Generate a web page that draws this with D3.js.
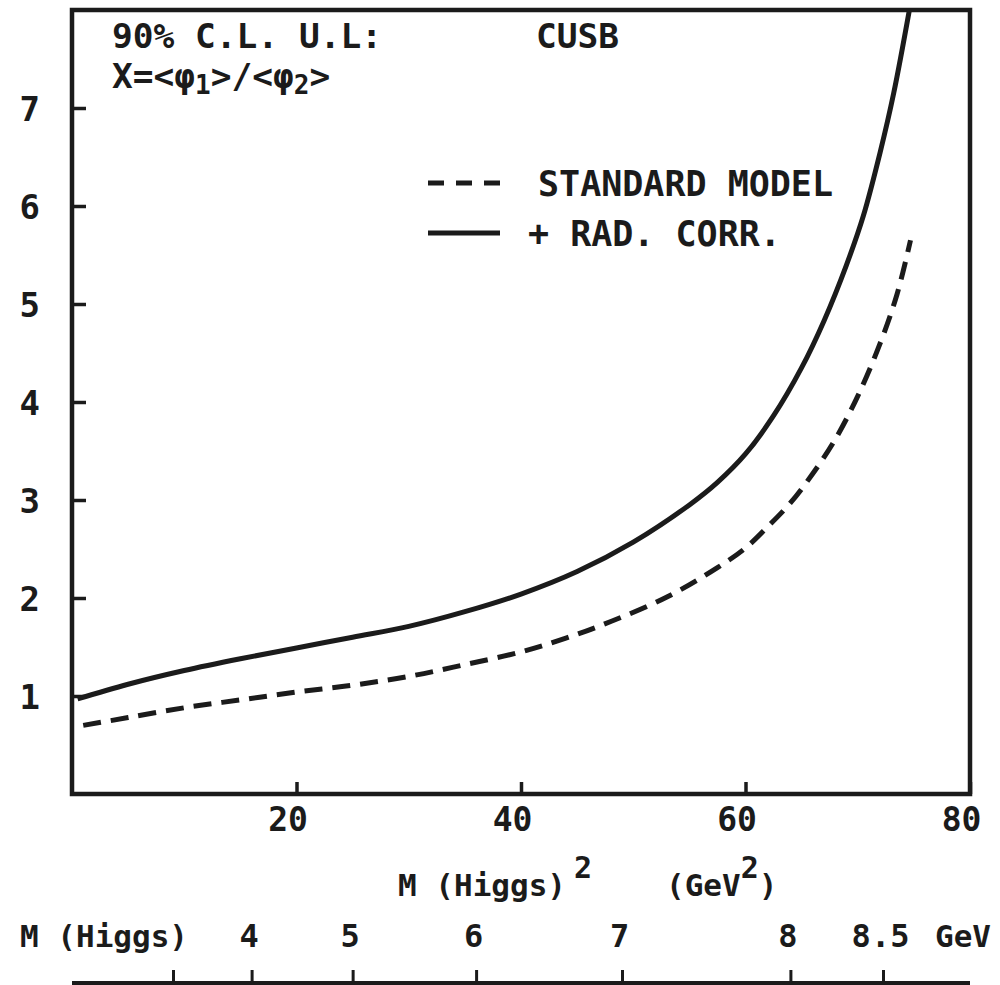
<!DOCTYPE html>
<html>
<head>
<meta charset="utf-8">
<script src="https://cdn.jsdelivr.net/npm/d3@7"></script>
<style>
  body { margin: 0; background: #fff; }
  text { font-family: "DejaVu Sans Mono", monospace; font-weight: bold; fill: #1b1b1b; }
</style>
</head>
<body>
<svg id="svg"></svg>
<script>
// data: upper limit on X vs M(Higgs)^2
const mh2Rad = [0.5, 5, 10, 15, 20, 25, 30, 35, 40, 45, 50, 55, 57.5, 60, 62.5, 65, 67, 69, 70.5, 72, 73.2, 74.6]
const xRad   = [0.97, 1.12, 1.26, 1.38, 1.49, 1.6, 1.71, 1.86, 2.04, 2.27, 2.57, 2.95, 3.18, 3.47, 3.86, 4.35, 4.83, 5.4, 5.9, 6.55, 7.15, 8.0]
const mh2Std = [1, 5, 10, 15, 20, 25, 30, 35, 40, 44, 48, 53, 57.5, 60, 62, 64, 66, 68, 70, 72, 73.5, 74.7]
const xStd   = [0.7, 0.78, 0.88, 0.96, 1.04, 1.11, 1.2, 1.32, 1.45, 1.59, 1.76, 2.01, 2.31, 2.51, 2.73, 2.97, 3.27, 3.62, 4.06, 4.6, 5.1, 5.65]
const yTicks = [1, 2, 3, 4, 5, 6, 7]
const xTicks = [20, 40, 60, 80]
const massTicks = [3, 4, 5, 6, 7, 8, 8.5]

const width = 1000, height = 985
const ink = "#1b1b1b"

const svg = d3.select("#svg")
    .attr("width", width)
    .attr("height", height)

const x = d3.scaleLinear().domain([0, 80]).range([72, 970])
const y = d3.scaleLinear().domain([0, 8]).range([794, 10])
// mass scale: M -> position of M^2
const xm = d3.scalePow().exponent(2).domain([0, Math.sqrt(80)]).range([72, 970])

const line = d3.line()
    .x(d => x(d[0]))
    .y(d => y(d[1]))
    .curve(d3.curveCatmullRom.alpha(0.5))

// frame
svg.append("rect")
    .attr("x", x(0)).attr("y", y(8))
    .attr("width", x(80) - x(0)).attr("height", y(0) - y(8))
    .attr("fill", "none").attr("stroke", ink).attr("stroke-width", 4.5)

// y axis, ticks pointing inward
const gy = svg.append("g")
    .attr("transform", `translate(${x(0)},0)`)
    .call(d3.axisLeft(y).tickValues(yTicks).tickSizeInner(-14).tickSizeOuter(0).tickPadding(32).tickFormat(d3.format("d")))
gy.select(".domain").remove()
gy.selectAll("line").attr("stroke", ink).attr("stroke-width", 3.5)
gy.selectAll("text").attr("font-size", 34).attr("font-family", null).attr("dy", "0.36em")

// x axis (M^2)
const gx = svg.append("g")
    .attr("transform", `translate(0,${y(0)})`)
    .call(d3.axisBottom(x).tickValues(xTicks).tickSizeInner(-12).tickSizeOuter(0).tickPadding(14))
gx.select(".domain").remove()
gx.selectAll("line").attr("stroke", ink).attr("stroke-width", 3.5)
gx.selectAll("text").attr("font-size", 33).attr("font-family", null).attr("dx", -9)

// axis title M(Higgs)^2 (GeV^2)
const t1 = svg.append("text").attr("x", 398).attr("y", 896).attr("font-size", 31)
t1.append("tspan").text("M (Higgs)")
t1.append("tspan").attr("dx", 8).attr("dy", -18).attr("font-size", 30).text("2")
const t2 = svg.append("text").attr("x", 666).attr("y", 896).attr("font-size", 31)
t2.append("tspan").text("(GeV")
t2.append("tspan").attr("dy", -18).attr("font-size", 30).text("2")
t2.append("tspan").attr("dy", 18).text(")")

// secondary mass axis at the bottom
const gm = svg.append("g")
    .attr("transform", "translate(0,983)")
    .call(d3.axisTop(xm).tickValues(massTicks).tickSizeInner(13).tickSizeOuter(0).tickPadding(23)
      .tickFormat(d => d === 3 ? "" : (d === 8.5 ? "8.5" : d3.format("d")(d))))
gm.select(".domain").attr("d", `M${xm(0)},0H${xm(Math.sqrt(80))}`).attr("stroke", ink).attr("stroke-width", 4)
gm.selectAll("line").attr("stroke", ink).attr("stroke-width", 3)
gm.selectAll("text").attr("font-size", 32).attr("font-family", null).attr("dx", -3)
svg.append("text").attr("x", 20).attr("y", 947).attr("font-size", 31).text("M (Higgs)")
svg.append("text").attr("x", 935).attr("y", 947).attr("font-size", 31).text("GeV")

// curves
svg.append("path")
    .datum(d3.zip(mh2Std, xStd))
    .attr("d", line)
    .attr("fill", "none").attr("stroke", ink).attr("stroke-width", 5)
    .attr("stroke-dasharray", "18,10")
svg.append("path")
    .datum(d3.zip(mh2Rad, xRad))
    .attr("d", line)
    .attr("fill", "none").attr("stroke", ink).attr("stroke-width", 5)

// header text
svg.append("text").attr("x", 112).attr("y", 48).attr("font-size", 34.5).text("90% C.L. U.L:")
svg.append("text").attr("x", 536).attr("y", 48).attr("font-size", 34.5).text("CUSB")
const hx = svg.append("text").attr("x", 112).attr("y", 88).attr("font-size", 34.5)
hx.append("tspan").text("X=<φ")
hx.append("tspan").attr("font-size", 26).attr("dy", 6).text("1")
hx.append("tspan").attr("dy", -6).text(">/<φ")
hx.append("tspan").attr("font-size", 26).attr("dy", 6).text("2")
hx.append("tspan").attr("dy", -6).text(">")

// legend
const legend = [
  {label: "STANDARD MODEL", dash: "16,12", y: 183, x0: 428, x1: 500, tx: 538},
  {label: "+ RAD. CORR.", dash: null, y: 233, x0: 428, x1: 500, tx: 528}
]
const lg = svg.append("g").selectAll("g").data(legend).join("g")
lg.append("line")
    .attr("x1", d => d.x0).attr("x2", d => d.x1)
    .attr("y1", d => d.y).attr("y2", d => d.y)
    .attr("stroke", ink).attr("stroke-width", 5)
    .attr("stroke-dasharray", d => d.dash)
lg.append("text")
    .attr("x", d => d.tx).attr("y", d => d.y + 13)
    .attr("font-size", 35)
    .text(d => d.label)
</script>
</body>
</html>
